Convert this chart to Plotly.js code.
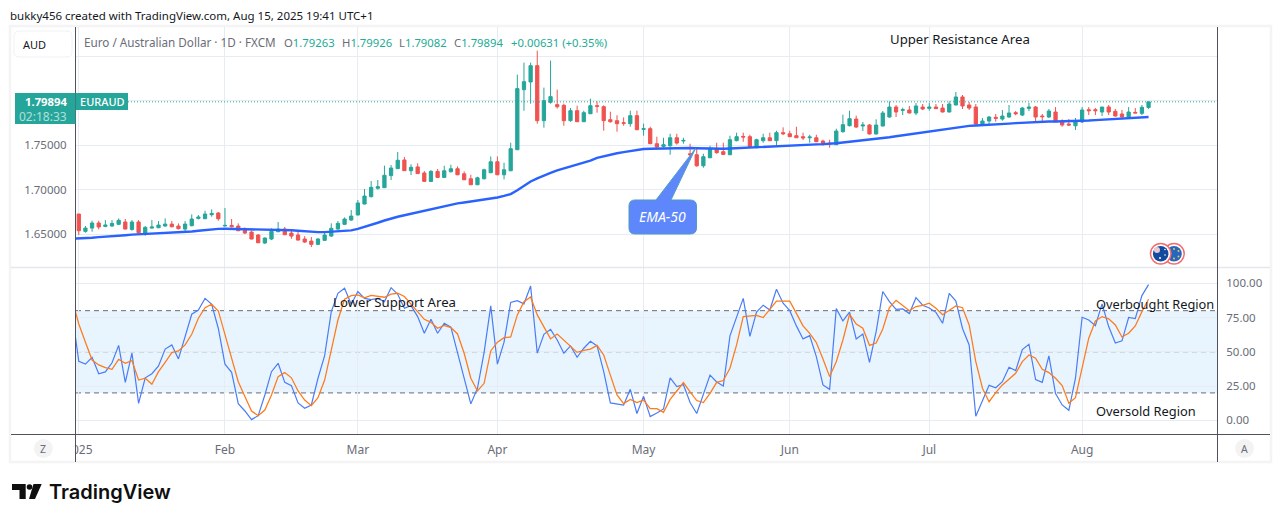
<!DOCTYPE html>
<html><head><meta charset="utf-8">
<script src="https://cdn.plot.ly/plotly-3.0.1.min.js"></script>
<style>html,body{margin:0;padding:0;background:#fff;overflow:hidden}#c{width:1281px;height:522px}</style>
</head><body><div id="c"></div>
<script>
const opens=[1.6729,1.6534,1.6571,1.6628,1.6590,1.6594,1.6613,1.6639,1.6556,1.6639,1.6511,1.6571,1.6575,1.6594,1.6616,1.6594,1.6560,1.6598,1.6680,1.6676,1.6721,1.6740,
1.6594,1.6601,1.6594,1.6553,1.6526,1.6493,1.6403,1.6448,1.6530,1.6560,1.6515,1.6493,1.6448,1.6425,1.6388,1.6433,1.6481,1.6560,1.6613,1.6661,
1.6718,1.6841,1.6924,1.7018,1.7025,1.7160,1.7239,1.7336,1.7216,1.7258,1.7190,1.7095,1.7208,1.7140,1.7204,1.7238,1.7181,1.7125,1.7058,1.7125,1.7193,
1.7316,1.7170,1.7215,1.7451,1.8126,1.8213,1.8396,1.7778,1.7984,1.7958,1.7950,1.7778,1.7890,1.7766,1.7856,1.7946,1.7935,1.7789,1.7778,1.7755,1.7744,1.7834,
1.7680,1.7688,1.7519,1.7489,1.7496,1.7586,1.7549,1.7406,1.7395,1.7271,1.7361,1.7463,1.7429,1.7395,1.7553,1.7601,1.7598,1.7474,1.7553,1.7586,1.7553,1.7643,
1.7631,1.7609,1.7598,1.7586,1.7586,1.7549,1.7526,1.7508,1.7654,1.7721,1.7796,1.7718,1.7729,1.7628,1.7718,1.7819,1.7931,1.7894,1.7898,1.7864,1.7931,
1.7916,1.7931,1.7920,1.7875,1.7954,1.8044,1.7954,1.7931,1.7740,1.7774,1.7815,1.7796,1.7819,1.7868,1.7841,1.7916,1.7931,1.7830,1.7819,1.7875,1.7770,1.7740,1.7721,
1.7763,1.7901,1.7901,1.7875,1.7931,1.7883,1.7853,1.7819,1.7871,1.7860,1.79263];
const highs=[1.6729,1.6594,1.6654,1.6654,1.6661,1.6661,1.6680,1.6673,1.6661,1.6661,1.6594,1.6661,1.6650,1.6680,1.6650,1.6624,1.6650,1.6725,1.6718,1.6766,1.6781,1.6751,
1.6796,1.6673,1.6624,1.6579,1.6541,1.6504,1.6466,1.6568,1.6639,1.6583,1.6538,1.6530,1.6481,1.6470,1.6459,1.6523,1.6624,1.6650,1.6691,1.6774,
1.6886,1.7010,1.7100,1.7111,1.7273,1.7280,1.7426,1.7370,1.7288,1.7299,1.7213,1.7223,1.7234,1.7271,1.7283,1.7264,1.7208,1.7170,1.7148,1.7238,1.7376,
1.7376,1.7305,1.7530,1.8295,1.8430,1.8430,1.8565,1.8149,1.8453,1.8126,1.7969,1.7920,1.7946,1.7890,1.8025,1.7995,1.7950,1.7879,1.7838,1.7815,1.7890,1.7890,
1.7744,1.7710,1.7598,1.7586,1.7631,1.7631,1.7586,1.7519,1.7459,1.7406,1.7496,1.7530,1.7530,1.7609,1.7643,1.7643,1.7620,1.7575,1.7631,1.7643,1.7665,1.7703,
1.7665,1.7710,1.7643,1.7620,1.7620,1.7564,1.7564,1.7688,1.7845,1.7890,1.7834,1.7763,1.7740,1.7793,1.7886,1.7995,1.7954,1.7924,1.7943,1.7976,1.7965,
1.7976,1.7965,1.7965,1.7995,1.8100,1.8066,1.7988,1.7965,1.7808,1.7830,1.7853,1.7898,1.7954,1.7886,1.7931,1.7976,1.7943,1.7853,1.7909,1.7931,1.7793,1.7796,1.7808,
1.7931,1.7931,1.7920,1.7931,1.7954,1.7909,1.7898,1.7931,1.7920,1.7954,1.79926];
const lows=[1.6493,1.6519,1.6530,1.6556,1.6580,1.6586,1.6605,1.6556,1.6541,1.6511,1.6485,1.6564,1.6571,1.6586,1.6579,1.6556,1.6530,1.6590,1.6669,1.6673,1.6699,1.6654,
1.6590,1.6579,1.6538,1.6504,1.6444,1.6403,1.6391,1.6436,1.6526,1.6493,1.6451,1.6433,1.6403,1.6358,1.6380,1.6425,1.6474,1.6553,1.6605,1.6654,
1.6714,1.6838,1.6916,1.7003,1.7021,1.7111,1.7235,1.7213,1.7168,1.7179,1.7089,1.7088,1.7133,1.7133,1.7196,1.7166,1.7110,1.7054,1.7054,1.7118,1.7189,
1.7166,1.7118,1.7211,1.7451,1.7890,1.7969,1.7744,1.7699,1.7969,1.7913,1.7721,1.7766,1.7763,1.7763,1.7853,1.7868,1.7665,1.7755,1.7654,1.7721,1.7710,1.7673,
1.7609,1.7515,1.7474,1.7474,1.7395,1.7508,1.7519,1.7339,1.7260,1.7249,1.7358,1.7406,1.7395,1.7391,1.7545,1.7541,1.7481,1.7470,1.7530,1.7549,1.7496,1.7616,
1.7594,1.7583,1.7560,1.7530,1.7538,1.7496,1.7474,1.7504,1.7643,1.7714,1.7699,1.7661,1.7624,1.7624,1.7714,1.7811,1.7819,1.7841,1.7860,1.7841,1.7898,
1.7890,1.7909,1.7871,1.7871,1.7950,1.7909,1.7898,1.7736,1.7725,1.7740,1.7766,1.7778,1.7811,1.7838,1.7830,1.7886,1.7770,1.7755,1.7808,1.7763,1.7710,1.7718,1.7673,
1.7751,1.7841,1.7841,1.7830,1.7841,1.7826,1.7815,1.7815,1.7864,1.7841,1.79082];
const closes=[1.6541,1.6571,1.6628,1.6583,1.6605,1.6624,1.6658,1.6560,1.6639,1.6519,1.6579,1.6583,1.6605,1.6616,1.6586,1.6564,1.6616,1.6673,1.6695,1.6729,1.6736,1.6676,
1.6601,1.6586,1.6541,1.6515,1.6448,1.6406,1.6459,1.6534,1.6560,1.6496,1.6481,1.6436,1.6414,1.6388,1.6448,1.6493,1.6568,1.6624,1.6673,1.6706,
1.6853,1.6931,1.7029,1.7036,1.7164,1.7246,1.7333,1.7216,1.7254,1.7183,1.7096,1.7208,1.7140,1.7215,1.7238,1.7170,1.7114,1.7058,1.7136,1.7226,1.7316,
1.7170,1.7226,1.7463,1.8138,1.8216,1.8396,1.7778,1.8003,1.8048,1.7935,1.7778,1.7890,1.7766,1.7868,1.7946,1.7939,1.7778,1.7766,1.7744,1.7748,1.7834,1.7676,
1.7688,1.7519,1.7481,1.7508,1.7586,1.7526,1.7556,1.7395,1.7271,1.7373,1.7463,1.7418,1.7399,1.7564,1.7598,1.7594,1.7485,1.7564,1.7586,1.7553,1.7643,1.7631,
1.7598,1.7586,1.7583,1.7594,1.7541,1.7519,1.7519,1.7661,1.7733,1.7800,1.7706,1.7729,1.7628,1.7729,1.7864,1.7931,1.7875,1.7901,1.7864,1.7943,1.7909,
1.7931,1.7913,1.7875,1.7965,1.8044,1.7943,1.7920,1.7740,1.7774,1.7819,1.7804,1.7830,1.7864,1.7856,1.7920,1.7931,1.7819,1.7823,1.7886,1.7766,1.7729,1.7729,1.7770,
1.7898,1.7890,1.7890,1.7931,1.7875,1.7830,1.7819,1.7875,1.7864,1.7928,1.79894];
// The first entry of the three indicator lists belongs to the bar just left of the visible range.
const ema50=[1.6451,1.6453,1.6458,1.6463,1.6469,1.6473,1.6478,1.6484,1.6491,1.6498,1.6501,1.6504,1.6507,1.6510,1.6513,1.6516,1.6519,1.6523,1.6532,1.6541,1.6550,1.6558,1.6562,
1.6564,1.6563,1.6560,1.6556,1.6553,1.6552,1.6551,1.6551,1.6550,1.6550,1.6546,1.6541,1.6535,1.6530,1.6526,1.6526,1.6529,1.6533,1.6539,1.6545,
1.6562,1.6583,1.6606,1.6631,1.6656,1.6680,1.6698,1.6715,1.6732,1.6748,1.6764,1.6778,1.6797,1.6815,1.6832,1.6848,1.6858,1.6868,1.6878,1.6890,1.6902,
1.6915,1.6932,1.6953,1.6995,1.7048,1.7095,1.7130,1.7163,1.7192,1.7219,1.7240,1.7262,1.7283,1.7305,1.7330,1.7360,1.7380,1.7397,1.7412,1.7425,1.7438,1.7450,
1.7459,1.7463,1.7465,1.7466,1.7468,1.7469,1.7470,1.7470,1.7468,1.7465,1.7464,1.7463,1.7463,1.7465,1.7469,1.7472,1.7475,1.7478,1.7481,1.7487,1.7492,1.7498,
1.7503,1.7508,1.7510,1.7511,1.7512,1.7514,1.7515,1.7524,1.7533,1.7541,1.7549,1.7555,1.7562,1.7570,1.7581,1.7592,1.7603,1.7614,1.7625,1.7636,1.7647,
1.7658,1.7669,1.7680,1.7691,1.7703,1.7714,1.7719,1.7723,1.7726,1.7729,1.7734,1.7740,1.7745,1.7750,1.7755,1.7760,1.7765,1.7767,1.7768,1.7769,1.7770,1.7771,1.7773,
1.7774,1.7779,1.7784,1.7789,1.7793,1.7798,1.7802,1.7807,1.7811,1.7815,1.7819];
const stochK=[78,43,41,46,34,35.3,42,54.7,27.7,49,12.4,31,34,39.7,52,55,44.8,61.8,77.4,80.5,89,84.7,67,
41,35,12.2,6.8,0.5,3.4,18.5,35.5,41.6,27.7,25.3,12.7,8.8,11.2,30.7,47.2,79.3,92.7,96.4,84.7,
94,89,88,89,86.6,96.8,92,81.8,83.7,75.7,63.5,73.7,63.5,70.8,68,49,30,12,23.4,49.6,83.5,
41,57,86,87.3,85,98,49,62.8,66.4,58.6,49,54.3,46,52.6,57.7,54.3,35.5,12.7,12,11.2,22.6,5,
17.5,2.7,5.4,8.3,31,24.6,26,13,5,18.5,33,28,25,61.6,75.7,89,61.3,79,84,80.5,95.6,85.4,
80,68.9,59.4,61.8,46.5,25.8,22.6,81.5,72.5,79,59.4,63,42.3,64.7,94,86.6,81,81.3,77.9,89.5,84,
82,78.8,70.8,92.7,87,67,55,3,13.6,25.5,23.8,28.2,38.7,36.3,51.6,55.5,29.7,27.7,47,19.5,11.2,7.3,30.7,
75.2,73.2,69,85,68.4,56.4,58,75,74.2,91,99];
const stochD=[88,70.3,57,44,40.4,38.4,37.2,44.5,41.6,43.6,29.4,30.7,26.3,35.5,42.3,49.4,50.6,55,62.8,74.5,82.2,84.7,79.8,
62.3,44,28.2,17.3,6.8,3.4,7.5,18.5,31.9,34.8,31,21.4,14.8,10.7,16.5,29.4,51.3,73.2,88.3,91,
91.5,89.3,91.2,90.3,89.8,92,92.7,90.3,84.7,78.8,73.7,71.5,67.2,69.3,67.6,63,48.9,30.7,21.4,27,50.6,
57,60.3,60.8,76.9,86.6,90,76.9,68.4,59.4,63,58.4,54.3,49.6,51,52,54.7,47.7,33,18.5,12.2,15.3,13,
14.8,8.5,8.5,5.8,15.3,21.4,27.5,20.7,14.4,12.9,19.7,27.7,29,38,55,75.7,75.9,76.6,75,81,87,87,
87,78,68.9,63.5,56.7,44.8,31.9,42.8,58.6,77.4,70.3,67.2,54.7,56.4,66.7,82.2,87.6,83.7,80,83,83.9,
85.4,81.8,77.1,80.5,83.5,82.2,69.6,42.8,23.4,13.6,20.2,25.8,29.9,34.3,42.8,47.7,45.3,37.2,34.8,30.7,25.3,12.4,16.5,
38,59.9,72.5,75.7,74,69.6,60.8,63.5,68.9,79.3,88.3];
const monthBars=[0,22,42,63,85,107,128,151];
const monthLabels=['2025','Feb','Mar','Apr','May','Jun','Jul','Aug'];
const priceTicks=[1.65,1.70,1.75,1.80,1.85];
const priceLabels=['1.65000','1.70000','1.75000','',''];
const oscTicks=[0,25,50,75,100];
const oscLabels=['0.00','25.00','50.00','75.00','100.00'];
const LAST=1.79894, OB=80, MID=50, OS=20;

const W=1281,H=522,FF='"Noto Sans",sans-serif';
const X=p=>p/W, Y=p=>1-p/H;
const bars=closes.map((_,i)=>i);
const lineBars=ema50.map((_,i)=>i-1);
const GRID='#e6ecf2',DARK='#50535e',UP='#26a69a',DN='#ef5350';

const traces=[
 {type:'candlestick',xaxis:'x2',yaxis:'y',x:bars,open:opens,high:highs,low:lows,close:closes,width:0.72,whiskerwidth:0,
  increasing:{line:{color:UP,width:1},fillcolor:UP},decreasing:{line:{color:DN,width:1},fillcolor:DN},hoverinfo:'skip'},
 {type:'scatter',mode:'lines',xaxis:'x2',yaxis:'y',x:lineBars,y:ema50,line:{color:'#2962ff',width:2.4},hoverinfo:'skip'},
 {type:'scatter',mode:'lines',xaxis:'x',yaxis:'y2',x:lineBars,y:stochK,line:{color:'#4a7df5',width:1.2},hoverinfo:'skip'},
 {type:'scatter',mode:'lines',xaxis:'x',yaxis:'y2',x:lineBars,y:stochD,line:{color:'#ff7a1a',width:1.25},hoverinfo:'skip'}
];

function pxRect(x0,y0,x1,y1,o){return Object.assign({type:'rect',xref:'paper',yref:'paper',x0:X(x0),x1:X(x1),y0:Y(y0),y1:Y(y1),layer:'above',line:{width:0}},o);}
function pxLine(x0,y0,x1,y1,c,w){return {type:'line',xref:'paper',yref:'paper',x0:X(x0),x1:X(x1),y0:Y(y0),y1:Y(y1),layer:'above',line:{color:c,width:w}};}
function pxCircle(cx,cy,r,o){return Object.assign({type:'circle',xref:'paper',yref:'paper',x0:X(cx-r),x1:X(cx+r),y0:Y(cy+r),y1:Y(cy-r),layer:'above',line:{width:0}},o);}
function pxPath(cmds,o){
  const s=cmds.map(c=>typeof c==='string'?c:(c[0]/W).toFixed(5)+' '+(1-c[1]/H).toFixed(5)).join(' ');
  return Object.assign({type:'path',xref:'paper',yref:'paper',path:s,layer:'above',line:{width:0}},o);
}
const band=(v,c)=>({type:'line',xref:'paper',yref:'y2',x0:X(76),x1:X(1217),y0:v,y1:v,layer:'between',line:{color:c,width:1,dash:'5px,4px'}});

const shapes=[
 {type:'rect',xref:'paper',yref:'y2',x0:X(76),x1:X(1217),y0:OS,y1:OB,layer:'between',fillcolor:'rgba(33,150,243,0.1)',line:{width:0}},
 band(OB,'#6a6d78'),band(MID,'#9598a1'),band(OS,'#6a6d78'),
 {type:'line',xref:'paper',yref:'y',x0:X(128),x1:X(1217),y0:LAST,y1:LAST,layer:'above',line:{color:'#22ab94',width:1,dash:'1px,2px'}},
 pxRect(10,26,1271,462,{line:{color:'#f4f4f5',width:2.5},fillcolor:'rgba(0,0,0,0)',layer:'below'}),
 pxRect(12,436,75,460,{fillcolor:'#ffffff'}),
 pxLine(11,267.5,1270,267.5,'#e4e7ed',1.6),
 pxLine(75.5,27,75.5,462,DARK,1),
 pxLine(1217.5,27,1217.5,462,DARK,1),
 pxLine(11,434.5,1270,434.5,DARK,1),
 pxCircle(43.4,448.5,9.4,{fillcolor:'#f3f3f4'}),
 pxCircle(1244.5,448.5,9.4,{fillcolor:'#f3f3f4'}),
 pxPath(['M',[20,31],'L',[67,31],'Q',[72,31],[72,36],'L',[72,52],'Q',[72,57],[67,57],'L',[19,57],'Q',[14,57],[14,52],'L',[14,36],'Q',[14,31],[20,31],'Z'],{fillcolor:'#ffffff',line:{color:'#eef1f5',width:1}}),
 pxRect(15,93,75.5,124,{fillcolor:'#26a69a'}),
 pxRect(76,93,128,110,{fillcolor:'#26a69a'}),
 pxPath(['M',[635,200],'L',[656,200],'L',[695.5,148.5],'L',[671,200],'L',[690,200],'Q',[696.5,200],[696.5,206],'L',[696.5,228],'Q',[696.5,234],[690,234],'L',[635,234],'Q',[629,234],[629,228],'L',[629,206],'Q',[629,200],[635,200],'Z'],{fillcolor:'#5e87fc',line:{color:'#4f9fc0',width:1}}),
 pxCircle(1174,253.7,10.2,{fillcolor:'#ffffff',line:{color:'#f26d6d',width:1.5}}),
 pxCircle(1174,253.7,7.8,{fillcolor:'#2467bd'}),
 pxCircle(1174,249,1,{fillcolor:'#e3c94f'}),pxCircle(1178.5,251,1,{fillcolor:'#e3c94f'}),pxCircle(1178.5,256.5,1,{fillcolor:'#e3c94f'}),
 pxCircle(1174,258.5,1,{fillcolor:'#e3c94f'}),pxCircle(1170,253.7,1,{fillcolor:'#e3c94f'}),
 pxCircle(1160.7,253.7,10.2,{fillcolor:'#ffffff',line:{color:'#f26d6d',width:1.5}}),
 pxCircle(1160.7,253.7,7.8,{fillcolor:'#124a9f'}),
 pxCircle(1157,250,3,{fillcolor:'#e8c9d2'}),
 pxCircle(1165,249.5,0.8,{fillcolor:'#ffffff'}),pxCircle(1165,255,0.8,{fillcolor:'#ffffff'}),pxCircle(1160,258,1,{fillcolor:'#ffffff'}),
 pxPath(['M',[12,484],'L',[25.7,484],'L',[25.7,499],'L',[19.5,499],'L',[19.5,490],'L',[12,490],'Z'],{fillcolor:'#0f0f0f'}),
 pxCircle(29.5,487,2.8,{fillcolor:'#0f0f0f'}),
 pxPath(['M',[33.5,484],'L',[41.7,484],'L',[35,499],'L',[29,499],'Z'],{fillcolor:'#0f0f0f'})
];

function note(text,x,y,o={}){
  return {text,xref:'paper',yref:'paper',x:X(x),y:Y(y),xanchor:o.a||'left',yanchor:'middle',showarrow:false,align:'left',borderpad:0,borderwidth:0,
    font:{family:o.f||FF,size:o.s||12,color:o.c||'#131722',weight:o.w||400,style:o.i?'italic':'normal'}};
}
const G='#22ab94',L='#6a6d78';
const annotations=[
 note('bukky456 created with TradingView.com, Aug 15, 2025 19:41 UTC+1',10,15,{s:11.5}),
 note('AUD',23,44.5,{s:11}),
 note('Euro / Australian Dollar · 1D · FXCM',84,42,{c:L,s:11.7}),
 note(`<span style="color:${L}">O</span>1.79263`,284,42,{c:G,s:11.3}),
 note(`<span style="color:${L}">H</span>1.79926`,341.5,42,{c:G,s:11.3}),
 note(`<span style="color:${L}">L</span>1.79082`,399,42,{c:G,s:11.3}),
 note(`<span style="color:${L}">C</span>1.79894`,454,42,{c:G,s:11.3}),
 note('+0.00631 (+0.35%)',511,42,{c:G,s:11.3}),
 note('1.79894',67,101.5,{a:'right',c:'#ffffff',w:700,s:11.3}),
 note('02:18:33',67,116,{a:'right',c:'rgba(255,255,255,0.65)'}),
 note('EURAUD',80,101.5,{c:'#ffffff',w:500,s:11}),
 note('Upper Resistance Area',890,39.5,{s:13.2}),
 note('Lower Support Area',333,302,{s:13.2}),
 note('Overbought Region',1096,304,{s:12.8}),
 note('Oversold Region',1096,411,{s:12.85}),
 note('EMA-50',662.5,216.5,{a:'center',c:'#ffffff',i:true,s:14}),
 note('Z',43.4,449,{a:'center',s:10.5,c:L}),
 note('A',1244.5,449,{a:'center',s:10.5,c:L}),
 note('TradingView',48.5,492,{s:20,f:'Inter,sans-serif',w:600,c:'#0f0f0f'})
];

const pTop=1.65+(234.4-27)/890, pBot=1.65+(234.4-267)/890;
const layout={
 width:W,height:H,margin:{l:0,r:0,t:0,b:0,pad:0},paper_bgcolor:'#fff',plot_bgcolor:'#fff',showlegend:false,hovermode:false,
 xaxis:{domain:[X(76),X(1217)],range:[-0.42,171.3],anchor:'y2',tickmode:'array',tickvals:monthBars,ticktext:monthLabels,
   showgrid:true,gridcolor:GRID,gridwidth:1,zeroline:false,showline:false,ticks:'outside',ticklen:4,tickcolor:'rgba(0,0,0,0)',
   tickfont:{family:FF,size:12,color:L},fixedrange:true},
 xaxis2:{domain:[X(76),X(1217)],range:[-0.42,171.3],anchor:'y',tickmode:'array',tickvals:monthBars,showticklabels:false,
   showgrid:true,gridcolor:GRID,gridwidth:1,zeroline:false,showline:false,ticks:'',rangeslider:{visible:false},fixedrange:true},
 yaxis:{domain:[Y(267),Y(27)],range:[pBot,pTop],anchor:'x2',side:'left',tickmode:'array',tickvals:priceTicks,ticktext:priceLabels,
   showgrid:true,gridcolor:GRID,gridwidth:1,zeroline:false,showline:false,ticks:'outside',ticklen:6,tickcolor:'rgba(0,0,0,0)',
   tickfont:{family:FF,size:11.5,color:L},fixedrange:true},
 yaxis2:{domain:[Y(434.3),Y(267.5)],range:[-10.2,111.5],anchor:'x',side:'right',tickmode:'array',tickvals:oscTicks,ticktext:oscLabels,
   showgrid:true,gridcolor:GRID,gridwidth:1,zeroline:false,showline:false,ticks:'outside',ticklen:6,tickcolor:'rgba(0,0,0,0)',
   tickfont:{family:FF,size:11.5,color:L},fixedrange:true},
 shapes,annotations
};
Plotly.newPlot('c',traces,layout,{staticPlot:true,displayModeBar:false});
</script></body></html>
